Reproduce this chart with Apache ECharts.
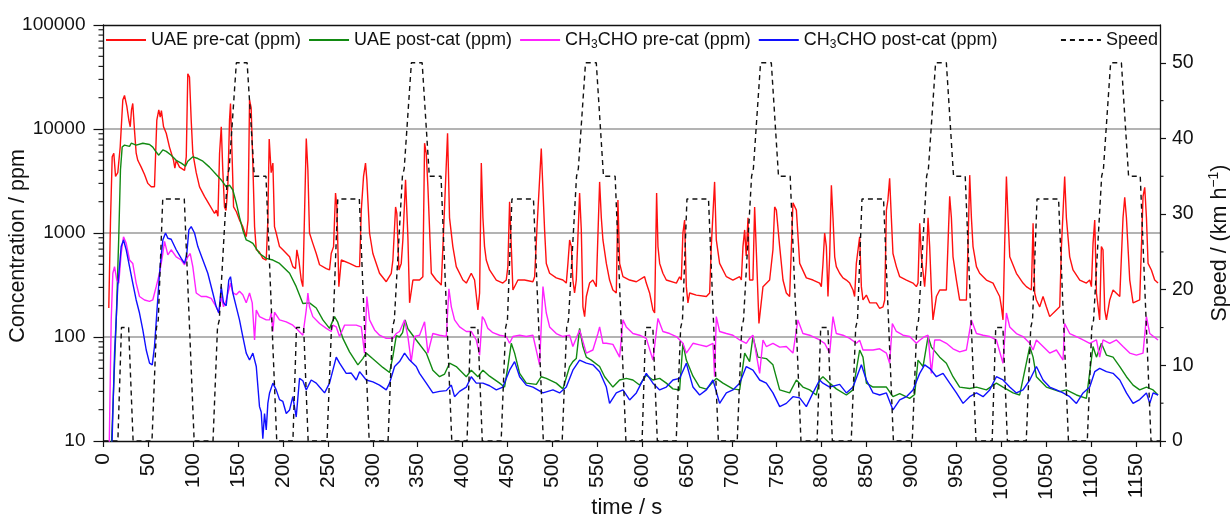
<!DOCTYPE html>
<html><head><meta charset="utf-8">
<script src="https://cdn.jsdelivr.net/npm/echarts@6/dist/echarts.min.js"></script>
<style>html,body{margin:0;padding:0;background:#fff}#c{width:1230px;height:518px}</style>
</head><body><div id="c"></div>
<script>
// ---------- tick labels ----------
const leftTicks = [10, 100, 1000, 10000, 100000];
const logMinorFactors = [2, 3, 4, 5, 6, 7, 8, 9];
const rightTicks = [0, 10, 20, 30, 40, 50];
const rightMinorTicks = [5, 15, 25, 35, 45];
const xTickStep = 50;
const seriesNames = ['UAE pre-cat (ppm)', 'UAE post-cat (ppm)', 'CH3CHO pre-cat (ppm)', 'CH3CHO post-cat (ppm)', 'Speed'];

// ---------- data: [time s, value] ----------
const uaePre = [[5.9,190],[7.8,1330],[9.7,5400],[11.5,5850],[13.4,3500],[15.9,3800],[18.6,6700],[21.5,19000],[23.4,21000],[26,16500],[28.2,12200],[29.8,10500],[31.2,15300],[32.6,17600],[34.5,9800],[36.4,5850],[38.2,5000],[42,4300],[45.7,3650],[49.4,3000],[53.2,2780],[56.8,2780],[59.4,12200],[61.6,15300],[63.2,13000],[64.5,15000],[66.9,10500],[69.9,9100],[73.5,6700],[78,5000],[79.5,4200],[81,5000],[84.7,4300],[90.3,4000],[92.2,5400],[93.9,34000],[95.8,31500],[97.7,12200],[99.5,5850],[103.3,3800],[107,2780],[112.5,2250],[118.1,1860],[123.7,1540],[125.6,1660],[127.5,1450],[129.3,5850],[131.2,10500],[132.9,4000],[134.8,1780],[136.5,1650],[138.5,2780],[140.4,12200],[141.5,17600],[143.4,5000],[144.9,1780],[148,1600],[151.5,1330],[155.2,1150],[159,920],[161,1330],[162.7,19000],[164.5,16000],[166.4,4500],[168.3,1150],[170.2,690],[173.5,660],[177.5,570],[181.3,550],[183.1,1330],[184.6,8000],[186.8,3800],[188.7,4700],[190.5,1150],[192.4,1000],[196.1,740],[199.8,690],[207.3,590],[210.9,475],[213.9,455],[215.4,690],[217.6,550],[220.3,353],[222.1,305],[225.9,8100],[227.7,4040],[229.5,1000],[233.2,795],[237,635],[240.7,495],[248.2,455],[251.8,441],[253.7,635],[256.3,740],[258.5,2420],[260,1780],[262.2,305],[264.9,550],[274.1,510],[281.6,475],[285.3,475],[287.2,1660],[289.7,3500],[291.9,4700],[293.4,3240],[296.4,1000],[300.1,635],[307.5,410],[315,340],[320.6,410],[322.4,550],[325.4,1780],[326.8,1540],[329.1,441],[331.7,510],[333.5,857],[336.5,3240],[339.1,920],[341,213],[344.7,353],[352.1,353],[355.8,380],[357.7,7300],[359.6,5800],[361.4,2780],[365.2,410],[370.7,353],[374.4,330],[376.3,315],[378.9,1070],[383.3,9100],[385.5,1400],[389.2,740],[393,475],[400.4,353],[404.2,330],[409.7,410],[413.4,353],[417.1,182],[419,265],[420.9,4700],[422.7,1400],[424.5,740],[426.4,550],[430.1,441],[437.6,353],[444.9,330],[448.7,353],[450.5,475],[452.4,2000],[454.3,740],[456.1,283],[461.7,353],[469.1,353],[478.4,340],[480.3,380],[482.8,1070],[487.7,6500],[491.4,1070],[493.3,510],[497,410],[504.4,370],[511.8,353],[515.6,330],[517.4,510],[519.3,857],[521.2,740],[522.9,353],[524.8,265],[526.7,353],[530.4,2420],[532.3,1070],[534.1,195],[536,157],[537.9,245],[541.5,330],[545.2,353],[549,305],[552.7,3100],[554.6,1400],[556.4,857],[560.2,510],[563.8,353],[567.5,283],[571.3,265],[573.1,2080],[575,510],[578.7,380],[586.1,353],[593.6,340],[602.8,380],[604.7,330],[608.4,265],[612.1,182],[614,170],[616.2,2420],[617.7,740],[619.6,510],[623.2,410],[627,353],[638.2,330],[641.8,380],[643.7,353],[645.5,1000],[647.4,1330],[649.3,305],[651.1,213],[653,265],[660.4,253],[671.6,245],[675.3,265],[677.1,740],[680.8,3100],[682.7,857],[686.4,510],[693.9,380],[701.2,353],[708.7,380],[710.6,353],[712.4,740],[714.3,1070],[716,600],[718,1400],[719.8,353],[723.5,353],[725.4,1780],[727.5,600],[730.2,135],[734.7,305],[742.1,353],[745.8,690],[747.7,1780],[749.6,1660],[753.3,740],[757,353],[760.7,265],[764.4,245],[768.1,1950],[771.9,1660],[775.6,510],[783,370],[790.4,353],[797.8,330],[799.7,305],[801.5,500],[803.4,1000],[805.3,740],[807.1,245],[809,600],[810.9,2880],[812.7,1400],[814.6,590],[816.4,475],[820.1,410],[823.8,370],[827.6,353],[831.3,330],[835,283],[836.8,245],[838.7,510],[842.4,920],[844.3,305],[846.1,227],[849.9,253],[853.6,213],[861,213],[864.7,188],[868.4,195],[870.3,227],[872.2,1660],[873.9,2080],[875.8,3350],[877.7,1400],[879.5,635],[883.3,475],[887,380],[894.5,353],[901.8,330],[905.6,305],[907.4,330],[909.3,1240],[911.2,590],[914.8,305],[916.7,510],[918.6,1400],[920.4,740],[922.3,283],[924.1,146],[927.9,245],[931.6,283],[939,283],[942.7,2250],[944.6,1400],[946.4,590],[950.2,353],[953.8,227],[961.3,227],[963.1,740],[965,3600],[966.9,1400],[968.7,740],[972.5,475],[976.1,410],[983.6,353],[991,330],[994.7,283],[998.4,245],[1000.3,195],[1002.1,146],[1004,800],[1005.9,3500],[1007.7,1400],[1009.6,590],[1017,410],[1024.4,330],[1028.1,305],[1033.7,283],[1035.6,1240],[1037.4,265],[1039.3,227],[1043,195],[1046.7,245],[1050.4,195],[1054.1,157],[1061.6,182],[1065.3,195],[1067.2,740],[1070.8,3500],[1072.7,1400],[1076.4,590],[1080.1,441],[1087.6,353],[1095,330],[1098.7,353],[1100.6,305],[1102.4,795],[1104.3,1330],[1106.2,265],[1109.8,146],[1111.7,740],[1113.5,690],[1115.4,182],[1117.3,146],[1121,227],[1124.7,283],[1132.2,245],[1135.8,1400],[1137.7,2200],[1139.6,1400],[1143.3,353],[1147,213],[1154.4,227],[1158.1,2250],[1160,2750],[1161.9,1400],[1163.7,510],[1167.4,441],[1171.1,353],[1174.8,330]];

const uaePost = [[8.6,8],[14.2,146],[17,920],[18.9,4040],[20.8,6700],[23.4,7000],[29,6800],[30.9,7300],[36.4,7000],[43.8,7300],[51.3,7100],[54.9,6700],[58.7,6000],[61.6,5600],[66.1,6300],[69.9,6100],[75.4,5600],[81,5000],[86.6,4700],[91.3,4400],[93.9,4900],[99.5,5400],[105.1,5200],[110.7,4900],[118.1,4300],[125.6,3650],[131.2,3240],[136.7,2780],[140.4,2880],[144.1,2590],[147.9,1950],[151.5,1420],[155.2,1070],[159,857],[162.7,830],[166.4,795],[173.8,635],[181.3,570],[188.7,550],[196.1,510],[207.3,410],[214.7,305],[222.1,210],[229.5,213],[237,190],[244.4,146],[251.8,121],[257.4,157],[260.8,140],[266.7,97],[274.1,72],[283.4,54],[288.9,62],[292.7,70],[299.7,62],[311.2,51],[318.7,45.5],[322.4,65],[326.2,103],[329.8,100],[333.2,110],[336,146],[339.1,120],[348.4,93.6],[359.6,70],[366.9,48],[374.4,41.5],[380,44],[385.5,56],[393,52],[404.2,41.5],[409.7,48],[417.1,41.5],[422.7,48],[430.1,42],[441.3,36],[446.8,33],[450.5,52],[454.3,87],[458,70],[463.6,44.7],[471,36],[482.2,35],[487.7,41.5],[493.3,40],[504.4,36],[511.8,31.7],[519.3,52],[522.9,58],[526.7,62],[530.4,121],[534.1,81],[537.9,64],[543.4,60],[552.7,52],[558.3,41.5],[567.5,33],[575,38.6],[582.4,40],[589.8,38.6],[597.2,34.5],[604.7,43],[612.1,38.6],[619.6,40],[627,36],[634.4,31.7],[641.8,30.9],[645.5,87],[649.3,60],[656.7,42],[664.1,33],[671.6,31.5],[682.7,40],[690.1,36],[701.2,31.7],[708.7,31],[714.3,70],[719.8,58],[723.5,101],[729.1,64],[738.4,62],[745.8,54],[753.3,31],[764.4,29],[771.9,38.6],[779.2,33],[786.7,31],[794.1,27.7],[797.8,38.6],[801.5,41.5],[809,36],[816.4,31.7],[827.6,27.7],[835,31],[842.4,75],[846.1,64],[849.9,36],[857.3,33],[872.2,33],[879.5,26.7],[887,28.5],[898.1,25.7],[903.7,28],[907.4,60],[913,52],[918.6,101],[922.3,80],[931.6,64],[939,56],[946.4,41.5],[953.8,33],[965,32],[972.5,33],[983.6,31],[994.7,36],[1002.1,33],[1013.3,29],[1020.7,27.7],[1031.9,81],[1035.6,64],[1039.3,41.5],[1050.4,33],[1065.3,29.8],[1072.7,31],[1083.9,27.7],[1095,25.7],[1102.4,81],[1106.2,64],[1111.7,87],[1117.3,67],[1124.7,64],[1132.2,52],[1139.6,41.5],[1147,34.5],[1154.4,31],[1161.9,33],[1169.3,31],[1174.8,27.7]];

const ch3choPre = [[5.9,5],[8.6,146],[10.4,410],[12.3,475],[14.8,353],[17,330],[19.7,635],[22.3,920],[25.3,795],[29,550],[32.6,510],[36.4,330],[40.1,245],[45.7,227],[51.3,220],[54.9,227],[58.7,305],[62.4,410],[66.1,635],[68,830],[71.7,615],[75.4,690],[81,590],[86.6,550],[90.3,495],[93.9,590],[96.6,635],[99.5,475],[103.3,265],[108.9,245],[114.5,245],[120,235],[125.6,195],[128.5,170],[131.2,245],[133.7,195],[136.7,227],[141.5,330],[144.1,265],[147.9,255],[151.5,275],[155.2,255],[159,213],[162.7,265],[165.7,213],[168.3,93.6],[170.2,182],[173.8,157],[181.3,146],[185,146],[186.9,170],[188.7,113],[190.5,173],[196.1,146],[203.6,140],[210.9,130],[216.5,117],[222.1,104],[225.9,182],[227.7,265],[229.5,195],[233.2,157],[240.7,135],[248.2,121],[253.7,113],[255.6,130],[259.3,125],[263,101],[268.6,130],[274.1,130],[281.6,130],[287.2,125],[290.8,70],[293.4,245],[296.4,146],[302,117],[307.5,104],[315,97],[322.4,97],[326.2,108],[329.8,113],[335.4,146],[339.1,101],[342.8,58],[346.5,101],[352.1,104],[357.7,140],[361.4,70],[366.9,108],[374.4,104],[381.9,101],[384.8,290],[387.5,195],[391.1,146],[396.7,125],[404.2,113],[409.7,113],[415.3,93.6],[419,67],[422,157],[424.5,146],[428.2,121],[433.8,110],[441.3,104],[448.7,101],[452.4,87],[456.1,101],[463.6,104],[471,101],[478.4,104],[485.8,54],[489.6,305],[493.3,170],[497,125],[504.4,108],[511.8,101],[519.3,104],[522.9,81],[530.4,117],[537.9,70],[545.2,75],[550.8,108],[552.7,125],[556.4,87],[560.2,87],[567.5,85],[575,64],[578.7,146],[582.4,125],[589.8,108],[597.2,104],[604.7,97],[612.1,60],[617.7,151],[623.2,113],[630.7,108],[638.2,101],[645.5,87],[649.3,70],[656.7,87],[664.1,84],[671.6,81],[679,87],[680.8,41.5],[682.7,157],[686.4,113],[693.9,108],[701.2,104],[708.7,93.6],[716.1,87],[719.8,97],[723.5,104],[731,44.7],[734.7,93.6],[738.4,81],[745.8,87],[753.3,80],[760.7,81],[768.1,70],[773.6,146],[779.2,108],[786.7,104],[797.8,93.6],[803.4,87],[809,70],[812.7,157],[816.4,108],[823.8,104],[831.3,97],[838.7,87],[842.4,93],[846.1,75],[857.3,75],[864.7,77],[872.2,70],[875.8,56],[878.8,135],[883.3,113],[890.7,104],[898.1,101],[905.6,87],[909.3,93],[914.8,101],[918.6,104],[922.3,44.7],[926,93.6],[931.6,93.6],[939,87],[946.4,77],[953.8,72],[961.3,75],[966.9,146],[972.5,108],[979.9,104],[987.3,101],[994.7,93.6],[1002.1,56],[1005.9,170],[1009.6,125],[1017,108],[1024.4,101],[1031.9,87],[1035.6,75],[1039.3,93.6],[1046.7,81],[1054.1,70],[1061.6,75],[1069,60],[1070.8,135],[1076.4,108],[1083.9,101],[1091.3,93.6],[1098.7,87],[1106.2,93.6],[1109.8,64],[1113.5,93.6],[1121,87],[1128.5,93.6],[1135.8,81],[1143.3,70],[1150.7,67],[1158.1,70],[1161.9,157],[1165.6,108],[1174.8,93.6]];

const ch3choPost = [[8.6,5],[12.3,70],[15.9,305],[19.7,740],[22.3,857],[25.3,690],[29,475],[32.6,330],[36.4,227],[40.1,170],[43.8,117],[47.6,75],[51.3,56],[54.3,54],[56.8,81],[59.4,170],[62.4,410],[66.1,857],[69.1,1000],[71.7,890],[75.4,870],[81,690],[86.6,570],[90.3,510],[92.8,635],[95.1,1070],[97.7,1150],[101.4,1000],[105.1,740],[110.7,550],[116.2,410],[121.8,265],[125.6,195],[128.5,170],[131.2,305],[133.7,213],[136.7,200],[139.6,353],[141.5,380],[144.1,265],[147.9,195],[151.5,146],[155.2,101],[159,70],[162.7,60],[166.4,70],[170.2,52],[173.8,21.4],[175.7,19],[177.5,10.5],[179.4,18.4],[181.3,12.8],[183.1,23],[185,29],[188.7,36],[192.4,31],[196.1,25],[199.8,24],[203.6,18.4],[207.3,19.9],[210.9,26.7],[214.7,17],[218.4,40],[222.1,38],[225.9,31],[231.4,38.6],[237,36],[240.7,33],[246.3,29],[251.8,36],[259.3,64],[263,56],[270.4,44.7],[276,45],[281.6,38.6],[285.3,46.4],[292.7,38.6],[300.1,37],[307.5,34.5],[315,31],[318.7,36],[324.3,52],[329.8,58],[335.4,70],[341,60],[348.4,52],[352.1,44.7],[359.6,36],[366.9,29],[374.4,30],[381.9,30.5],[387.5,34.5],[391.1,26.7],[396.7,30],[404.2,33],[409.7,41.5],[415.3,36],[422.7,36],[430.1,34],[437.6,31],[444.9,33],[452.4,48],[458,58],[463.6,41.5],[471,34.5],[478.4,33],[489.6,29],[500.7,31],[508.1,29],[515.6,33],[522.9,48],[530.4,60],[537.9,56],[545.2,54],[552.7,46.4],[560.2,33],[563.8,23],[571.3,29],[578.7,31],[586.1,24.8],[593.6,29],[604.7,44.7],[612.1,36],[619.6,31],[627,33],[634.4,38.6],[641.8,40],[649.3,56],[656.7,33],[664.1,27.7],[671.6,31],[679,38.6],[686.4,23],[693.9,29],[701.2,31],[708.7,36],[716.1,52],[723.5,48],[731,38.6],[738.4,36],[745.8,29],[753.3,21.4],[760.7,23],[768.1,26.7],[775.6,26],[783,21.4],[790.4,29],[797.8,38.6],[801.5,36],[809,33],[820.1,35],[827.6,29],[835,33],[844.3,54],[849.9,38.6],[857.3,29],[864.7,27.7],[872.2,29],[879.5,19.9],[887,24.8],[894.5,26.7],[901.8,31],[909.3,44.7],[914.8,54],[920.4,50],[927.9,41.5],[935.3,44.7],[942.7,36],[950.2,29],[957.6,23],[965,26.7],[972.5,29],[979.9,26.7],[987.3,31],[994.7,41.5],[1002.1,38.6],[1009.6,33],[1017,29],[1024.4,31],[1031.9,38.6],[1039.3,52],[1046.7,38.6],[1054.1,33],[1061.6,31],[1069,29],[1076.4,26.7],[1083.9,23],[1091.3,29],[1098.7,33],[1104.3,46.4],[1109.8,50],[1117.3,46.4],[1124.7,44.7],[1132.2,38.6],[1139.6,29],[1147,23],[1154.4,25],[1161.9,29],[1165.6,23],[1169.3,29],[1174.8,27.7]];

const speed = [[0,0],[16,0],[20,15],[28,15],[33,0],[54,0],[59,15],[61,16],[66,32],[90,32],[101,0],[122,0],[127,15],[129,16],[138,35],[140,36],[148,50],[160,50],[168,35],[181,35],[193,0],
[211,0],[215,15],[223,15],[228,0],[249,0],[254,15],[256,16],[261,32],[285,32],[296,0],[317,0],[322,15],[324,16],[333,35],[335,36],[343,50],[355,50],[363,35],[376,35],[388,0],
[405,0],[409,15],[417,15],[422,0],[443,0],[448,15],[450,16],[455,32],[479,32],[490,0],[511,0],[516,15],[518,16],[527,35],[529,36],[537,50],[549,50],[557,35],[570,35],[582,0],
[600,0],[604,15],[612,15],[617,0],[638,0],[643,15],[645,16],[650,32],[674,32],[685,0],[706,0],[711,15],[713,16],[722,35],[724,36],[732,50],[744,50],[752,35],[765,35],[777,0],
[795,0],[799,15],[807,15],[812,0],[833,0],[838,15],[840,16],[845,32],[869,32],[880,0],[901,0],[906,15],[908,16],[917,35],[919,36],[927,50],[939,50],[947,35],[960,35],[972,0],
[990,0],[994,15],[1002,15],[1007,0],[1028,0],[1033,15],[1035,16],[1040,32],[1064,32],[1075,0],[1096,0],[1101,15],[1103,16],[1112,35],[1114,36],[1122,50],[1134,50],[1142,35],[1155,35],[1167,0],[1177,0]];

// ---------- chart ----------
const FONT = 'Liberation Sans, Arial, Helvetica, sans-serif';
const chart = echarts.init(document.getElementById('c'), null, {renderer: 'canvas'});

function legendRich(name) {
  if (name.indexOf('CH3CHO') === 0) return '{n|CH}{s|3}{n|' + name.slice(3) + '}';
  return '{n|' + name + '}';
}
const legendText = {
  fontFamily: FONT, fontSize: 18, color: '#111',
  rich: {
    n: {fontFamily: FONT, fontSize: 18, color: '#111', lineHeight: 22},
    s: {fontFamily: FONT, fontSize: 12, color: '#111', lineHeight: 12, verticalAlign: 'bottom'}
  }
};
const noSymbol = {color: 'rgba(0,0,0,0)', borderColor: 'rgba(0,0,0,0)', borderWidth: 0};
function lineSeries(name, data, color, yIdx, extra) {
  return Object.assign({
    name: name, type: 'line', data: data, xAxisIndex: 0, yAxisIndex: yIdx,
    symbol: 'none', showSymbol: false, clip: true,
    lineStyle: {color: color, width: 1.4},
    itemStyle: {color: color},
    emphasis: {disabled: true}
  }, extra || {});
}

const option = {
  animation: false,
  backgroundColor: '#fff',
  textStyle: {fontFamily: FONT},
  grid: {left: 103.5, right: 70, top: 25, bottom: 77, containLabel: false, outerBoundsMode: 'none'},
  legend: [
    {data: seriesNames.slice(0, 4), left: 105, top: 31, padding: 0, itemGap: 7,
     itemWidth: 40, itemHeight: 14, itemStyle: noSymbol, formatter: legendRich, textStyle: legendText},
    {data: [seriesNames[4]], right: 72, top: 31, padding: 0,
     itemWidth: 40, itemHeight: 14, itemStyle: noSymbol, textStyle: legendText, formatter: legendRich}
  ],
  xAxis: [
    {type: 'value', min: 0, max: 1177, interval: xTickStep, position: 'bottom',
     name: 'time / s', nameLocation: 'middle', nameGap: 56, nameMoveOverlap: false,
     nameTextStyle: {fontFamily: FONT, fontSize: 22, color: '#111', padding: [0, 10, 0, 0]},
     axisLine: {show: true, onZero: false, lineStyle: {color: '#111', width: 1.3}},
     axisTick: {show: true, inside: false, length: 6, lineStyle: {color: '#111', width: 1.2}},
     axisLabel: {rotate: 90, fontFamily: FONT, fontSize: 21, color: '#111', margin: 12,
       formatter: v => (Math.abs(v % xTickStep) < 1e-6 ? String(v) : '')},
     splitLine: {show: false}},
    {type: 'value', min: 0, max: 1177, position: 'top',
     axisLine: {show: true, onZero: false, lineStyle: {color: '#111', width: 1.3}},
     axisTick: {show: false}, axisLabel: {show: false}, splitLine: {show: false}}
  ],
  yAxis: [
    {type: 'log', logBase: 10, min: 10, max: 100000, position: 'left',
     name: 'Concentration / ppm', nameLocation: 'middle', nameGap: 74, nameRotate: 90, nameMoveOverlap: false,
     nameTextStyle: {fontFamily: FONT, fontSize: 21.5, color: '#111', padding: [0, 26, 0, 0]},
     axisLine: {show: true, onZero: false, lineStyle: {color: '#111', width: 1.3}},
     axisTick: {show: true, inside: false, length: 10, lineStyle: {color: '#111', width: 1.2}},
     axisLabel: {fontFamily: FONT, fontSize: 19, color: '#111', margin: 18,
       formatter: v => String(Math.round(v))},
     splitLine: {show: true, showMinLine: false, showMaxLine: false,
       lineStyle: {color: '#9a9a9a', width: 1.5}}},
    {type: 'value', min: 0, max: 55, interval: 10, position: 'right',
     name: '{n|Speed / (km h}{sup|\u22121}{n|)}', nameLocation: 'middle', nameGap: 47, nameRotate: 90, nameMoveOverlap: false,
     nameTextStyle: {fontFamily: FONT, fontSize: 21.5, color: '#111', padding: [0, 20, 0, 0],
       rich: {n: {fontFamily: FONT, fontSize: 21.5, color: '#111', lineHeight: 26},
              sup: {fontFamily: FONT, fontSize: 14, color: '#111', lineHeight: 14, verticalAlign: 'top'}}},
     axisLine: {show: true, onZero: false, lineStyle: {color: '#111', width: 1.3}},
     axisTick: {show: true, inside: false, length: 6, customValues: rightTicks, lineStyle: {color: '#111', width: 1.2}},
     axisLabel: {fontFamily: FONT, fontSize: 19.5, color: '#111', margin: 12, customValues: rightTicks,
       formatter: v => (Math.abs(v % 10) < 1e-6 ? String(v) : '')},
     splitLine: {show: false}}
  ],
  series: [
    lineSeries(seriesNames[0], uaePre, '#ff1010', 0),
    lineSeries(seriesNames[1], uaePost, '#128a12', 0),
    lineSeries(seriesNames[2], ch3choPre, '#ff22ff', 0),
    lineSeries(seriesNames[3], ch3choPost, '#1010ff', 0),
    lineSeries(seriesNames[4], speed, '#111111', 1, {lineStyle: {color: '#111', width: 1.4, type: [5, 4]}, z: 5})
  ]
};
chart.setOption(option);

// minor ticks placed through the axes' own scales
const x0 = chart.convertToPixel({xAxisIndex: 0}, 0);
const x1 = chart.convertToPixel({xAxisIndex: 0}, 1177);
const minor = [];
leftTicks.slice(0, -1).forEach(d => logMinorFactors.forEach(f => {
  const y = chart.convertToPixel({yAxisIndex: 0}, d * f);
  minor.push({type: 'line', shape: {x1: x0 - 5, y1: y, x2: x0, y2: y}, style: {stroke: '#111', lineWidth: 1.1}, silent: true});
}));
rightMinorTicks.forEach(v => {
  const y = chart.convertToPixel({yAxisIndex: 1}, v);
  minor.push({type: 'line', shape: {x1: x1, y1: y, x2: x1 + 3.5, y2: y}, style: {stroke: '#111', lineWidth: 1.1}, silent: true});
});
chart.setOption({graphic: minor});
</script></body></html>
